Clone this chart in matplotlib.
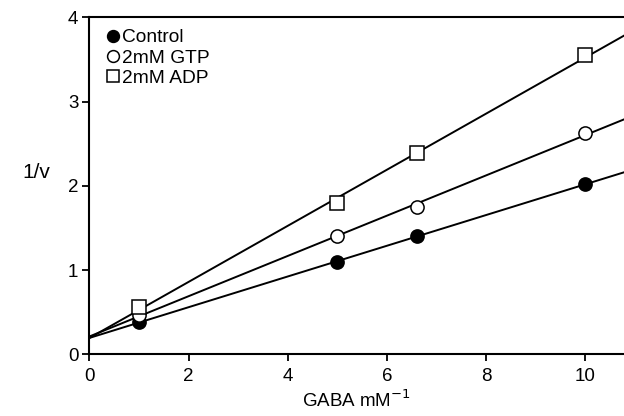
import numpy as np
import matplotlib
matplotlib.use("Agg")
import matplotlib.pyplot as plt
from matplotlib.lines import Line2D

plt.rcParams['font.family'] = ['Liberation Sans', 'DejaVu Sans']

# data (double reciprocal: 1/[GABA] vs 1/v)
gaba_inv = [1, 5, 6.6, 10]
control = [0.38, 1.10, 1.40, 2.02]
gtp = [0.47, 1.40, 1.75, 2.63]
adp = [0.56, 1.80, 2.39, 3.55]

fig = plt.figure(figsize=(6.24, 4.16), dpi=100)
ax = fig.add_axes([0.1434, 0.1483, 0.8566, 0.8100])

x_max = 10.78
x_line = np.array([0, x_max])

series = [
    (control, 'o', 'k', 'Control'),
    (gtp, 'o', 'white', '2mM GTP'),
    (adp, 's', 'white', '2mM ADP'),
]

handles = []
for y, marker, face, label in series:
    slope, intercept = np.polyfit(gaba_inv, y, 1)
    ax.plot(x_line, intercept + slope * x_line, color='k', lw=1.4, zorder=2)
    ax.plot(gaba_inv, y, linestyle='none', marker=marker, markersize=9.5,
            markerfacecolor=face, markeredgecolor='k', markeredgewidth=1.1, zorder=3)
    handles.append(Line2D([], [], linestyle='none', marker=marker, markersize=8.5,
                          markerfacecolor=face, markeredgecolor='k', markeredgewidth=1.1,
                          label=label))

ax.set_xlim(0, x_max)
ax.set_ylim(0, 4)
ax.set_xticks([0, 2, 4, 6, 8, 10])
ax.set_yticks([0, 1, 2, 3, 4])
ax.tick_params(direction='out', length=5, width=1.3, labelsize=13.5, colors='k')
ax.tick_params(axis='x', pad=5)
ax.tick_params(axis='y', pad=3)
ax.spines['right'].set_visible(False)
for s in ['left', 'bottom', 'top']:
    ax.spines[s].set_linewidth(1.5)

ax.set_xlabel('GABA mM$^{-1}$', fontsize=13.5, labelpad=3)
fig.text(0.036, 1 - 172 / 416, '1/v', fontsize=15, ha='left', va='center')

ax.legend(handles=handles, loc='upper left', frameon=False, fontsize=13.8,
          handlelength=0.6, handletextpad=0.2, labelspacing=0.15,
          borderaxespad=0.2, bbox_to_anchor=(0.011, 1.0))

fig.savefig('out.png', dpi=100)
